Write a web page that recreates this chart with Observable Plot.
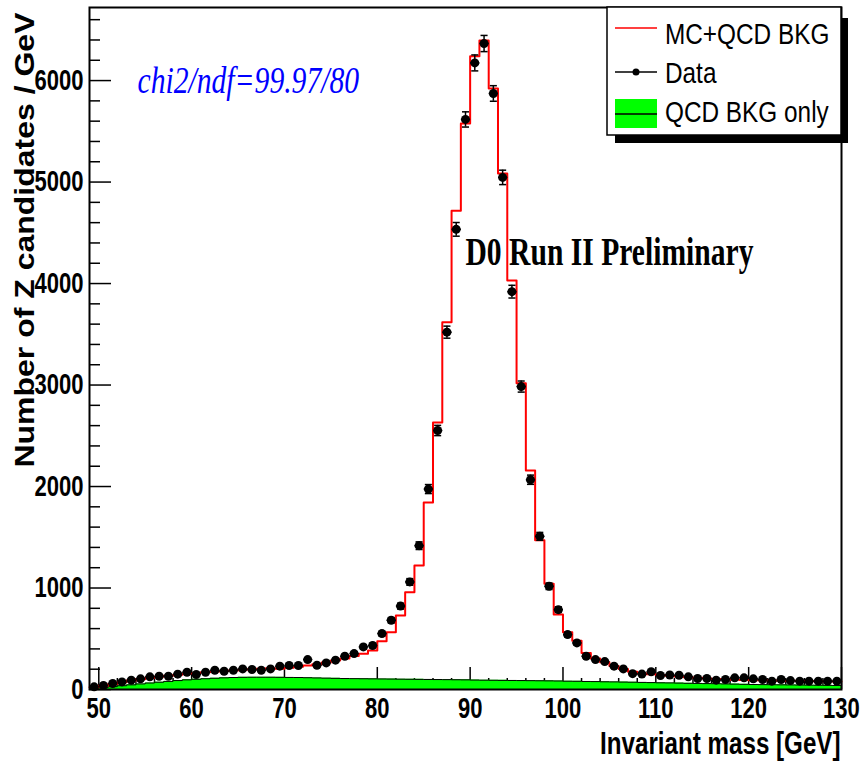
<!DOCTYPE html>
<html><head><meta charset="utf-8">
<script src="https://cdn.jsdelivr.net/npm/d3@7"></script>
<script src="https://cdn.jsdelivr.net/npm/@observablehq/plot@0.6"></script>
<style>body{margin:0;background:#fff}#chart{position:relative;width:864px;height:762px}</style>
</head><body><div id="chart"></div>
<script>
// Bins: 1 GeV wide, 49 .. 130 GeV (81 bins)
const binCenters = d3.range(49.5, 130, 1);
const dataCounts = [26,39,59,75,92,105,125,131,131,151,170,148,170,190,180,190,203,197,190,203,
  230,236,236,295,239,262,289,328,354,420,433,551,682,822,1060,1417,1975,2552,3521,4534,
  5617,6174,6365,5873,5046,3920,2985,2067,1509,1017,787,541,459,328,295,275,230,203,156,152,
  175,138,143,140,125,108,108,92,98,115,115,105,98,82,98,88,82,82,82,82,82];
const mcTotal = [22,38,55,72,88,102,115,126,135,145,155,163,170,177,183,188,194,199,204,210,
  205,215,225,236,250,265,285,305,330,352,384,476,565,729,959,1222,1843,2631,3619,4718,
  5577,6240,6395,5922,5085,4029,3018,2159,1470,1043,738,564,480,360,305,268,232,202,176,160,
  150,142,135,128,121,115,109,104,100,97,94,92,90,88,86,85,84,83,82,81,80];
const qcdBkg = [8,18,28,37,46,55,64,72,80,88,95,101,106,111,115,118,120,121,121,121,
  120,119,118,116,114,112,110,108,107,106,105,104,103,102,101,100,99,98,97,96,
  95,93,92,91,90,89,88,87,86,85,84,82,81,79,78,76,75,73,72,70,
  68,66,65,63,61,60,58,57,55,53,51,49,48,47,46,45,44,43,42,41,40];
const xMajor = [50,60,70,80,90,100,110,120,130];
const xMinor = [52,54,56,58,62,64,66,68,72,74,76,78,82,84,86,88,92,94,96,98,102,104,106,108,112,114,116,118,122,124,126,128];
const yMajor = [0,1000,2000,3000,4000,5000,6000];
const yMinor = [200,400,600,800,1200,1400,1600,1800,2200,2400,2600,2800,3200,3400,3600,3800,4200,4400,4600,4800,5200,5400,5600,5800,6200,6400,6600];
const legendLabels = ["MC+QCD BKG","Data","QCD BKG only"];
const xTitle = "Invariant mass [GeV]";
const yTitle = "Number of Z candidates / GeV";
const annot = "D0 Run II Preliminary";
const chiText = "chi2/ndf=99.97/80";

const W=864, H=762, mL=89, mR=23, mT=7, mB=73;
const X0=49, X1=130, YMAX=6720;
const pxX=(W-mL-mR)/(X1-X0), pxY=(H-mT-mB)/YMAX;

const rows = binCenters.map((c,i)=>({c, lo:c-0.5, hi:c+0.5, data:dataCounts[i], err:Math.sqrt(dataCounts[i]), mc:mcTotal[i], qcd:qcdBkg[i]}));
const stepMC = rows.map(r=>({x:r.lo,y:r.mc})).concat([{x:X1,y:mcTotal[mcTotal.length-1]}]);
const stepQCD = rows.map(r=>({x:r.lo,y:r.qcd})).concat([{x:X1,y:qcdBkg[qcdBkg.length-1]}]);

const svg = Plot.plot({
  width: W, height: H,
  marginLeft: mL, marginRight: mR, marginTop: mT, marginBottom: mB,
  x: {domain:[X0,X1], axis:null},
  y: {domain:[0,YMAX], axis:null},
  style: {fontFamily:"'Liberation Sans', Arial, sans-serif", background:"white", overflow:"visible"},
  marks: [
    Plot.ruleY(yMinor, {y:d=>d, x1:X0, x2:X0+11/pxX, stroke:"black", strokeWidth:1.5}),
    Plot.ruleY(yMajor, {y:d=>d, x1:X0, x2:X0+22/pxX, stroke:"black", strokeWidth:1.5}),
    Plot.ruleX(xMinor, {x:d=>d, y1:0, y2:11/pxY, stroke:"black", strokeWidth:1.5}),
    Plot.ruleX(xMajor, {x:d=>d, y1:0, y2:22/pxY, stroke:"black", strokeWidth:1.5}),
    Plot.areaY(stepQCD, {x:"x", y:"y", curve:"step-after", fill:"#00ff00"}),
    Plot.lineY(stepQCD, {x:"x", y:"y", curve:"step-after", stroke:"black", strokeWidth:1}),
    Plot.lineY(stepMC, {x:"x", y:"y", curve:"step-after", stroke:"#ff0000", strokeWidth:2}),
    Plot.ruleX(rows, {x:"c", y1:d=>d.data-d.err, y2:d=>d.data+d.err, stroke:"black", strokeWidth:1.5}),
    Plot.link(rows, {x1:d=>d.c-0.38, x2:d=>d.c+0.38, y1:d=>d.data+d.err, y2:d=>d.data+d.err, stroke:"black", strokeWidth:1.5}),
    Plot.link(rows, {x1:d=>d.c-0.38, x2:d=>d.c+0.38, y1:d=>d.data-d.err, y2:d=>d.data-d.err, stroke:"black", strokeWidth:1.5}),
    Plot.link(rows, {x1:"lo", x2:"hi", y1:"data", y2:"data", stroke:"black", strokeWidth:1.5}),
    Plot.dot(rows, {x:"c", y:"data", r:4.5, fill:"black", stroke:"none"}),
    Plot.frame({stroke:"black", strokeWidth:2}),
    Plot.text(yMajor, {x:X0, y:d=>d, text:d=>String(d), dx:-6, textAnchor:"end", fontSize:29, fontWeight:"bold", fill:"black"}),
    Plot.text(xMajor, {x:d=>d, y:0, text:d=>String(d), dy:19, textAnchor:"middle", fontSize:29, fontWeight:"bold", fill:"black"}),
    Plot.text([yTitle], {x:X0, y:YMAX, text:d=>d, dx:-56, dy:5, rotate:-90, textAnchor:"end", lineAnchor:"bottom", fontSize:32, fontWeight:"bold", fill:"black"}),
    Plot.text([xTitle], {x:X1, y:0, text:d=>d, dx:-1, dy:55, textAnchor:"end", fontSize:31, fontWeight:"bold", fill:"black"}),
    Plot.text([annot], {frameAnchor:"top-left", text:d=>d, dx:376, dy:245, textAnchor:"start", lineAnchor:"middle", fontSize:40, fontWeight:"bold", fontFamily:"'Liberation Serif', 'Times New Roman', serif", fill:"black"}),
    Plot.text([chiText], {frameAnchor:"top-left", text:d=>d, dx:48, dy:73, textAnchor:"start", lineAnchor:"middle", fontSize:38, fontStyle:"italic", fontFamily:"'Liberation Serif', 'Times New Roman', serif", fill:"#0000ff"})
  ]
});

// horizontal condensation like the original ROOT rendering
const squeeze = [[0.76,1],[0.76,1],[1,0.85],[0.78,1],[0.74,1],[0.78,1]];
d3.select(svg).selectAll("g[aria-label='text']").each(function(_, k){
  const [sx, sy] = squeeze[k] || [1,1];
  d3.select(this).selectAll("text").each(function(){
    const t = this.getAttribute("transform");
    if (t) this.setAttribute("transform", t + ` scale(${sx},${sy})`);
    else {
      const x = +this.getAttribute("x")||0, y = +this.getAttribute("y")||0;
      this.removeAttribute("x"); this.removeAttribute("y");
      this.setAttribute("transform", `translate(${x},${y}) scale(${sx},${sy})`);
    }
  });
});

// legend box (TLegend style with shadow)
const lg = d3.select(svg).append("g").attr("class","legend").attr("text-anchor","start");
lg.append("rect").attr("x",615).attr("y",18).attr("width",233).attr("height",125).attr("fill","black");
lg.append("rect").attr("x",607).attr("y",7).attr("width",234).attr("height",128).attr("fill","white").attr("stroke","black").attr("stroke-width",1.5);
lg.append("line").attr("x1",615).attr("x2",657).attr("y1",28).attr("y2",28).attr("stroke","#ff0000").attr("stroke-width",1.5);
lg.append("line").attr("x1",615).attr("x2",657).attr("y1",72).attr("y2",72).attr("stroke","black").attr("stroke-width",1.5);
lg.append("circle").attr("cx",636).attr("cy",72).attr("r",3.5).attr("fill","black");
lg.append("rect").attr("x",615).attr("y",99).attr("width",42).attr("height",29).attr("fill","#00ff00");
lg.append("line").attr("x1",615).attr("x2",657).attr("y1",114).attr("y2",114).attr("stroke","black").attr("stroke-width",1.5);
const lgY = [44, 83, 122];
legendLabels.forEach((s,i)=>{
  lg.append("text").attr("transform",`translate(665,${lgY[i]}) scale(0.84,1)`)
    .attr("text-anchor","start")
    .attr("font-size",29).attr("font-family","'Liberation Sans', Arial, sans-serif").attr("fill","black").text(s);
});

document.getElementById("chart").appendChild(svg);
</script></body></html>
